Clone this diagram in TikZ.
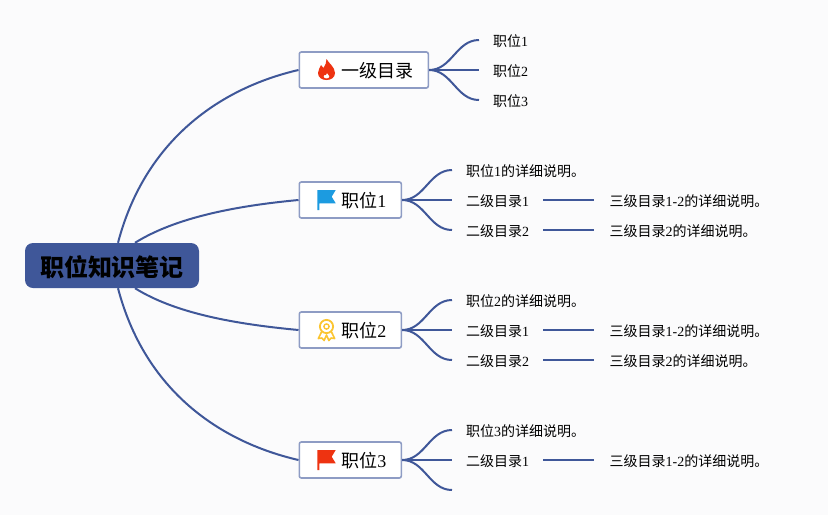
\documentclass[tikz,border=0pt]{standalone}
\usepackage{fontspec}
\setmainfont{Liberation Serif}
\newfontfamily\cjk{Noto Sans CJK SC}
\newcommand{\zh}[1]{{\cjk #1}}
\usetikzlibrary{positioning}
\definecolor{mapblue}{HTML}{3F5799}
\definecolor{boxedge}{HTML}{8E9CC4}
\definecolor{paper}{HTML}{FBFBFC}
\definecolor{firered}{HTML}{EE3311}
\definecolor{flagblue}{HTML}{1C9BE0}
\definecolor{medal}{HTML}{FBC531}
\tikzset{
  pics/flagicon/.style={code={
    \fill[#1] (-9.2,-10) -- (9.2,-10) -- (5.2,-3.3) -- (9.2,3.3) -- (-7.2,3.3) -- (-7.2,10) -- (-9.2,10) -- cycle;
  }},
  pics/fireicon/.style={code={
    \fill[firered,even odd rule] (0,-11) .. controls (2,-7) and (8.5,-3) .. (8.5,3)
      .. controls (8.5,7.5) and (4.5,10) .. (0,10) .. controls (-4.5,10) and (-8.5,7.5) .. (-8.5,3)
      .. controls (-8.5,0) and (-6.5,-2) .. (-5.5,-5) .. controls (-4.5,-3.5) and (-3.5,-3) .. (-3,-2)
      .. controls (-1,-5) and (0,-8) .. (0,-11) -- cycle
      (0.5,3) .. controls (1,4.5) and (3,5) .. (3,6.5) .. controls (3,7.8) and (1.5,8.5) .. (0,8.5)
      .. controls (-1.5,8.5) and (-3,7.8) .. (-3,6.5) .. controls (-3,5.5) and (-2.2,5) .. (-1.8,4.6)
      .. controls (-1.4,5) and (-1,5.2) .. (-0.7,5.2) .. controls (-0.3,4.6) and (0.5,4) .. (0.5,3) -- cycle;
  }},
  pics/medalicon/.style={code={
    \draw[medal,line width=1.8pt] (0,-3.5) circle (6.6);
    \draw[medal,line width=1.4pt] (0,-3.5) circle (2.6);
    \draw[medal,line width=1.6pt,line join=round] (-5,2) -- (-8.2,8.5) -- (-4.6,8) -- (-2.4,10.5) -- (0,5)
      -- (2.4,10.5) -- (4.6,8) -- (8.2,8.5) -- (5,2);
  }}
}
\begin{document}
\begin{tikzpicture}[
    x=1pt,y=-1pt,
    root/.style={rectangle,rounded corners=8pt,fill=mapblue,font=\cjk\bfseries\fontsize{24}{28}\selectfont,
      minimum width=174pt,minimum height=45pt,inner sep=0pt,text height=22pt,text depth=.5pt},
    topic/.style={rectangle,rounded corners=2pt,draw=boxedge,fill=white,line width=1.6pt,anchor=west,
      font=\fontsize{18}{22}\selectfont,minimum height=36pt,inner ysep=0pt,inner xsep=15pt,
      text height=16pt,text depth=.5pt},
    leaf/.style={anchor=west,font=\fontsize{14}{17}\selectfont,inner xsep=14pt,inner ysep=2pt,
      text height=14pt,text depth=.5pt},
    tail/.style={leaf,inner xsep=15.5pt},
    trunk/.style={mapblue,line width=2pt},
    twig/.style={mapblue,line width=2pt}
  ]
    \fill[paper] (0,0) rectangle (828,515);
    \useasboundingbox (0,0) rectangle (828,515);

    % connectors go under the boxes
    \node[root] (root) at (112,265.5) {职位知识笔记};
    \node[topic] (t1) at (298.5,70) {\hspace{27pt}\zh{一级目录}};
    \node[topic] (t2) at (298.5,200) {\hspace{27pt}\zh{职位}1};
    \node[topic] (t3) at (298.5,330) {\hspace{27pt}\zh{职位}2};
    \node[topic] (t4) at (298.5,460) {\hspace{27pt}\zh{职位}3};
    \pic at (326.5,70) {fireicon};
    \pic at (326.5,200) {flagicon=flagblue};
    \pic at (326.5,330) {medalicon};
    \pic at (326.5,460) {flagicon=firered};

    \node[leaf] (a1) at (479,40) {\zh{职位}1};
    \node[leaf] (a2) at (479,70) {\zh{职位}2};
    \node[leaf] (a3) at (479,100) {\zh{职位}3};

    \node[leaf] (b1) at (452,170) {\zh{职位}1\zh{的详细说明。}};
    \node[leaf] (b2) at (452,200) {\zh{二级目录}1};
    \node[leaf] (b3) at (452,230) {\zh{二级目录}2};
    \node[tail] (b4) at (594,200) {\zh{三级目录}1-2\zh{的详细说明。}};
    \node[tail] (b5) at (594,230) {\zh{三级目录}2\zh{的详细说明。}};

    \node[leaf] (c1) at (452,300) {\zh{职位}2\zh{的详细说明。}};
    \node[leaf] (c2) at (452,330) {\zh{二级目录}1};
    \node[leaf] (c3) at (452,360) {\zh{二级目录}2};
    \node[tail] (c4) at (594,330) {\zh{三级目录}1-2\zh{的详细说明。}};
    \node[tail] (c5) at (594,360) {\zh{三级目录}2\zh{的详细说明。}};

    \node[leaf] (d1) at (452,430) {\zh{职位}3\zh{的详细说明。}};
    \node[leaf] (d2) at (452,460) {\zh{二级目录}1};
    \coordinate (d3) at (452,490);
    \node[tail] (d4) at (594,460) {\zh{三级目录}1-2\zh{的详细说明。}};

    \draw[trunk] ([xshift=6pt]root.north) .. controls +(27,-103) and +(-78,18) .. (t1.west);
    \draw[trunk] ([xshift=23pt]root.north) .. controls +(40,-25) and +(-64,6) .. (t2.west);
    \draw[trunk] ([xshift=23pt]root.south) .. controls +(40,25) and +(-64,-6) .. (t3.west);
    \draw[trunk] ([xshift=6pt]root.south) .. controls +(27,103) and +(-78,-18) .. (t4.west);

    \foreach \s/\t in {t1/a1,t1/a2,t1/a3,t2/b1,t2/b2,t2/b3,t3/c1,t3/c2,t3/c3,t4/d1,t4/d2} {\draw[twig] (\s.east) to[out=0,in=180] (\t.west);}
    \draw[twig] (t4.east) to[out=0,in=180] (d3);
    \foreach \s/\t in {b2/b4,b3/b5,c2/c4,c3/c5,d2/d4} {\draw[twig] (\s.east)--(\t.west);}
  \end{tikzpicture}
\end{document}
